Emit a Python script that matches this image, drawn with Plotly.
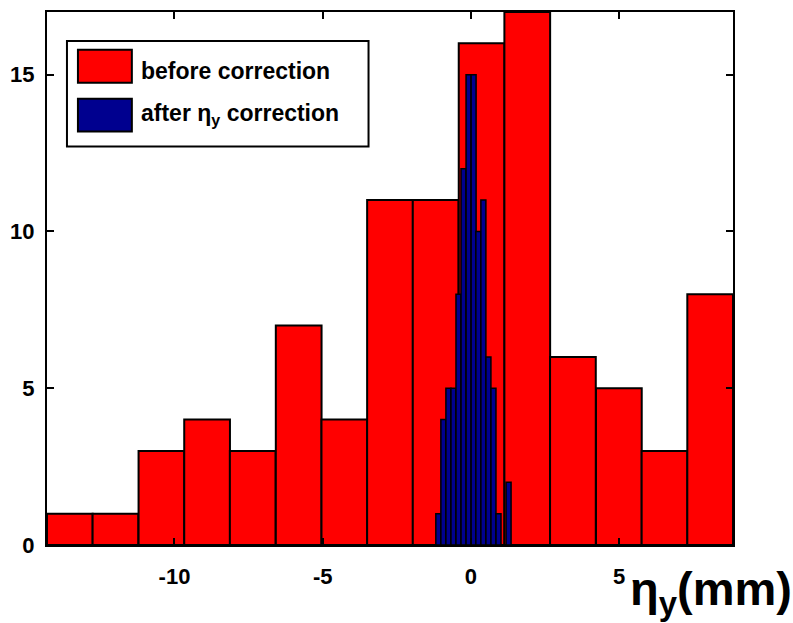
import plotly.graph_objects as go

# Histogram of eta_y before correction (15 bins)
before_centers = [-13.53, -11.99, -10.44, -8.90, -7.36, -5.81, -4.27, -2.73,
                  -1.19, 0.36, 1.90, 3.44, 4.99, 6.53, 8.07]
before_counts = [1, 1, 3, 4, 3, 7, 4, 11, 11, 16, 17, 6, 5, 3, 8]
before_width = 1.5427

# Histogram of eta_y after correction (15 bins)
after_centers = [-1.10, -0.93, -0.76, -0.59, -0.42, -0.25, -0.08, 0.09,
                 0.25, 0.42, 0.59, 0.76, 0.93, 1.10, 1.27]
after_counts = [1, 4, 5, 5, 8, 12, 15, 15, 10, 11, 6, 5, 1, 0, 2]
after_width = 0.1687

x_ticks = [-10, -5, 0, 5]
x_tick_labels = ["-10", "-5", "0", "5"]
y_ticks = [0, 5, 10, 15]

RED = "#ff0000"
BLUE = "#00008f"
FONT = "Liberation Sans, Arial, Helvetica, sans-serif"

fig = go.Figure()
fig.add_trace(go.Bar(
    x=before_centers, y=before_counts, width=before_width,
    marker=dict(color=RED, line=dict(color="black", width=2)),
    name="before correction", showlegend=False,
))
fig.add_trace(go.Bar(
    x=after_centers, y=after_counts, width=after_width,
    marker=dict(color=BLUE, line=dict(color="black", width=1.5)),
    name="after η<sub>y</sub> correction", showlegend=False,
))

axis_common = dict(
    showline=True, linecolor="black", linewidth=2, mirror="ticks",
    ticks="inside", ticklen=7, tickwidth=2, tickcolor="black",
    showgrid=False, zeroline=False,
    tickfont=dict(family=FONT, size=22, color="black", weight="bold"),
)

fig.update_layout(
    width=793, height=623,
    margin=dict(l=46, r=60, t=10, b=78),
    paper_bgcolor="white", plot_bgcolor="white",
    barmode="overlay",
    xaxis=dict(range=[-14.3, 8.84], tickvals=x_ticks, ticktext=x_tick_labels,
               ticklabelstandoff=11, **axis_common),
    yaxis=dict(range=[0, 17], tickvals=y_ticks,
               ticklabelstandoff=6, **axis_common),
)

# Legend box drawn in plot-area coordinates
shapes = [
    dict(type="rect", xref="paper", yref="paper", x0=0.0291, x1=0.4687,
         y0=0.7477, y1=0.9458, fillcolor="white",
         line=dict(color="black", width=2)),
    dict(type="rect", xref="paper", yref="paper", x0=0.0451, x1=0.1237,
         y0=0.8673, y1=0.929, fillcolor=RED,
         line=dict(color="black", width=2)),
    dict(type="rect", xref="paper", yref="paper", x0=0.0451, x1=0.1237,
         y0=0.7757, y1=0.8374, fillcolor=BLUE,
         line=dict(color="black", width=2)),
]
fig.update_layout(shapes=shapes)

legend_font = dict(family=FONT, size=23, color="black", weight="bold")
fig.add_annotation(xref="paper", yref="paper", x=0.1339, y=0.8897,
                   xanchor="left", yanchor="middle", showarrow=False,
                   text="before correction", font=legend_font)
fig.add_annotation(xref="paper", yref="paper", x=0.1339, y=0.808,
                   xanchor="left", yanchor="middle", showarrow=False,
                   text="after η<sub>y</sub> correction", font=legend_font)

# Axis label at the lower right
fig.add_annotation(xref="paper", yref="paper", x=0.847, y=-0.088,
                   xanchor="left", yanchor="middle", showarrow=False,
                   text="η<sub>y</sub>(mm)",
                   font=dict(family=FONT, size=47, color="black", weight="bold"))

fig.write_html("out.html")
